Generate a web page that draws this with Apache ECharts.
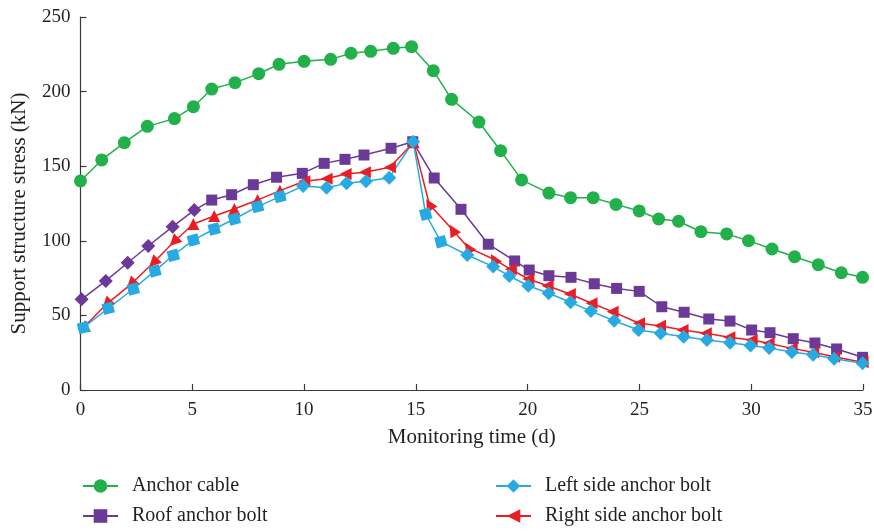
<!DOCTYPE html>
<html>
<head>
<meta charset="utf-8">
<script src="https://cdn.jsdelivr.net/npm/echarts@6/dist/echarts.min.js"></script>
<style>html,body{margin:0;padding:0;background:#fff}#c{width:874px;height:532px}</style>
</head>
<body>
<div id="c"></div>
<script>
var xTicks = [0, 5, 10, 15, 20, 25, 30, 35];
var yTicks = [0, 50, 100, 150, 200, 250];

var cableDays = [0, 0.95, 1.96, 2.99, 4.2, 5.05, 5.87, 6.91, 7.97, 8.88, 10.0, 11.19, 12.1, 12.98, 13.99, 14.81,
  15.78, 16.6, 17.82, 18.79, 19.73, 20.95, 21.92, 22.93, 23.95, 24.99, 25.86, 26.75, 27.75, 28.9, 29.88, 30.93, 31.94, 33.0, 34.03, 34.98];
var cableStress = [140.1, 154.2, 165.8, 176.7, 181.9, 189.9, 201.7, 206, 212, 218.3, 220.3, 221.6, 225.7, 227, 229, 230.1,
  214, 194.8, 179.6, 160.4, 140.8, 132, 128.9, 128.9, 124.4, 120, 114.6, 113.1, 106.1, 104.6, 100.1, 94.5, 89.3, 84, 78.6, 75.5];

var roofDays = [0.05, 1.13, 2.11, 3.03, 4.12, 5.09, 5.87, 6.76, 7.73, 8.77, 9.92, 10.9, 11.83, 12.68, 13.89, 14.86,
  15.82, 17.02, 18.24, 19.42, 20.07, 20.95, 21.94, 22.98, 23.98, 24.99, 26.0, 27.0, 28.1, 29.05, 30.02, 30.84, 31.88, 32.85, 33.82, 34.98];
var roofStress = [60.8, 73.1, 85.3, 96.5, 109.5, 120.6, 127.3, 130.9, 137.6, 142.6, 145.2, 151.9, 154.6, 157.5, 162, 166.4,
  142.1, 121.1, 97.7, 86.5, 80.4, 76.6, 75.5, 71.2, 68.1, 66.1, 55.8, 52.1, 47.6, 46.2, 40.2, 38.4, 34.4, 31.5, 27.5, 21.9];

var rightDays = [0.2, 1.17, 2.26, 3.26, 4.18, 5.05, 5.98, 6.88, 7.92, 8.92, 10.01, 11.01, 11.86, 12.72, 13.84, 14.9,
  15.6, 16.65, 17.34, 18.49, 19.25, 20.03, 20.89, 21.89, 22.86, 23.8, 24.98, 25.92, 26.93, 27.97, 29.02, 30.02, 30.78, 31.81, 32.77, 33.71, 34.98];
var rightStress = [42.9, 57.6, 71, 85.3, 99.4, 111.3, 116.6, 121.3, 127.3, 133.6, 139.9, 141.6, 144.8, 145.9, 149.3, 166,
  124.5, 107.2, 95.4, 87.6, 80.9, 74.4, 69.9, 64.3, 58.1, 52.5, 44.7, 43.1, 40.2, 38, 35.3, 33.5, 31.3, 27.9, 25.3, 22.3, 18.6];

var leftDays = [0.13, 1.24, 2.36, 3.33, 4.15, 5.05, 5.98, 6.88, 7.92, 8.92, 9.96, 11.01, 11.9, 12.77, 13.81, 14.88,
  15.44, 16.12, 17.3, 18.46, 19.18, 20.03, 20.94, 21.92, 22.83, 23.87, 24.96, 25.95, 26.98, 28.02, 29.05, 29.97, 30.8, 31.82, 32.77, 33.71, 34.98];
var leftStress = [41.8, 54.8, 67.7, 79.8, 90.3, 100.5, 107.9, 114.6, 122.9, 129.6, 136.7, 135.6, 138.5, 139.9, 142.3, 166.4,
  117.8, 99.4, 90.5, 82.7, 76.4, 69.9, 64.8, 58.8, 52.9, 46.4, 40.2, 38, 35.7, 33.5, 31.7, 29.9, 28.1, 25.5, 23.7, 21, 17.9];

var names = ['Anchor cable', 'Roof anchor bolt', 'Left side anchor bolt', 'Right side anchor bolt'];

function pairs(xs, ys) { return xs.map(function (x, i) { return [x, ys[i]]; }); }

var FONT = '"Liberation Serif", "DejaVu Serif", serif';
var AX = '#3a3a3a';
var TXT = '#231f20';

// marker shape quirks of the original figure
var roofData = pairs(roofDays, roofStress).map(function (p, i) {
  return i <= 5 ? { value: p, symbol: 'diamond', symbolSize: 14 } : { value: p };
});
var leftData = pairs(leftDays, leftStress).map(function (p, i) {
  return (i <= 9 || i === 16 || i === 17) ? { value: p, symbol: 'rect', symbolSize: 11, symbolRotate: 15 } : { value: p };
});
var rightData = pairs(rightDays, rightStress).map(function (p, i) {
  var r = 90;
  if (i === 0) r = 0;
  else if (i <= 4) r = 135;
  else if (i <= 9) r = 0;
  else if (i <= 14) r = 90;
  else if (i === 15) r = 0;
  else if (i <= 19) r = 30;
  return { value: p, symbolRotate: r };
});

function legendItem(name, left, top) {
  return {
    data: [name], orient: 'vertical', left: left, top: top,
    itemWidth: 35, itemHeight: 17, padding: 0,
    textStyle: { fontFamily: FONT, fontSize: 20, color: TXT, padding: [0, 0, 0, 9] }
  };
}

var chart = echarts.init(document.getElementById('c'), null, { renderer: 'canvas' });
chart.setOption({
  backgroundColor: '#ffffff',
  animation: false,
  textStyle: { fontFamily: FONT },
  grid: { left: 80.5, right: 11, top: 17, bottom: 142, containLabel: false, outerBoundsMode: 'none' },
  legend: [
    legendItem(names[0], 82, 476),
    legendItem(names[1], 82, 506),
    legendItem(names[2], 495, 476),
    legendItem(names[3], 495, 506)
  ],
  xAxis: {
    type: 'value', min: xTicks[0], max: xTicks[xTicks.length - 1], interval: 5,
    name: 'Monitoring time (d)', nameLocation: 'middle', nameGap: 37,
    nameTextStyle: { fontFamily: FONT, fontSize: 21, color: TXT },
    axisLine: { show: true, lineStyle: { color: AX, width: 1.2 } },
    axisTick: { show: true, inside: true, length: 6, lineStyle: { color: AX, width: 1.2 } },
    axisLabel: { fontFamily: FONT, fontSize: 19, color: TXT, margin: 11 },
    splitLine: { show: false }
  },
  yAxis: {
    type: 'value', min: yTicks[0], max: yTicks[yTicks.length - 1], interval: 50,
    name: 'Support structure stress (kN)', nameLocation: 'middle', nameGap: 51,
    nameTextStyle: { fontFamily: FONT, fontSize: 21, color: TXT, padding: [0, 20, 0, 0] },
    axisLine: { show: true, lineStyle: { color: AX, width: 1.2 } },
    axisTick: { show: true, inside: true, length: 6, lineStyle: { color: AX, width: 1.2 } },
    axisLabel: { fontFamily: FONT, fontSize: 19, color: TXT, margin: 10 },
    splitLine: { show: false }
  },
  series: [
    {
      name: names[0], type: 'line', data: pairs(cableDays, cableStress),
      symbol: 'circle', symbolSize: 13,
      lineStyle: { color: '#22b04b', width: 1.5 }, itemStyle: { color: '#22b04b' }
    },
    {
      name: names[1], type: 'line', data: roofData,
      symbol: 'rect', symbolSize: 11,
      lineStyle: { color: '#6b3a98', width: 1.5 }, itemStyle: { color: '#6b3a98' }
    },
    {
      name: names[3], type: 'line', data: rightData,
      symbol: 'triangle', symbolSize: 12, symbolRotate: 90,
      lineStyle: { color: '#ec1c24', width: 1.5 }, itemStyle: { color: '#ec1c24' }
    },
    {
      name: names[2], type: 'line', data: leftData,
      symbol: 'diamond', symbolSize: 14,
      lineStyle: { color: '#27aae1', width: 1.5 }, itemStyle: { color: '#27aae1' }
    }
  ]
});
</script>
</body>
</html>
